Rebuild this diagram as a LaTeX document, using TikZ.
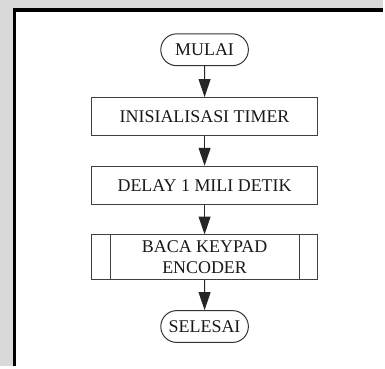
\documentclass[tikz,border=0pt]{standalone}
\usepackage{fontspec}
\setmainfont{Liberation Serif}
\usetikzlibrary{arrows.meta,shapes.misc}
\begin{document}
\begin{tikzpicture}[x=0.75pt,y=-0.75pt,
  every node/.style={font=\fontsize{13.5}{15.75}\selectfont, text=black!90, inner sep=0pt},
  terminal/.style={draw=black!80, line width=0.75pt, rounded rectangle, minimum width=66pt, minimum height=24pt},
  procbox/.style={draw=black!75, line width=0.75pt, rectangle, minimum width=170.25pt, minimum height=28.5pt},
  subproc/.style={procbox, minimum height=33.75pt, align=center},
  flow/.style={draw=black!85, line width=0.75pt, -{Triangle[length=13.5pt,width=9pt]}}]
  % page background and framed sheet
  \fill[black!15] (0,0) rectangle (385,368);
  \fill[white] (14.5,10) rectangle (385,368);
  \draw[black, line width=2.6pt] (14.5,368) -- (14.5,10) -- (385,10);
  \useasboundingbox (0,0) rectangle (385,368);
  % flowchart
  \node[terminal] (start) at (205.5,50) {MULAI};
  \node[procbox] (init) at (205.5,117) {INISIALISASI TIMER};
  \node[procbox] (delay) at (205.5,186) {DELAY 1 MILI DETIK};
  \node[subproc] (read) at (205.5,258.5) {BACA KEYPAD\\ENCODER};
  \draw[black!75, line width=0.75pt] (111,236) -- (111,281) (301,236) -- (301,281);
  \node[terminal] (stop) at (205.5,328) {SELESAI};
  \draw[flow] (start) -- (init);
  \draw[flow] (init) -- (delay);
  \draw[flow] (delay) -- (read);
  \draw[flow] (read) -- (stop);
\end{tikzpicture}
\end{document}
